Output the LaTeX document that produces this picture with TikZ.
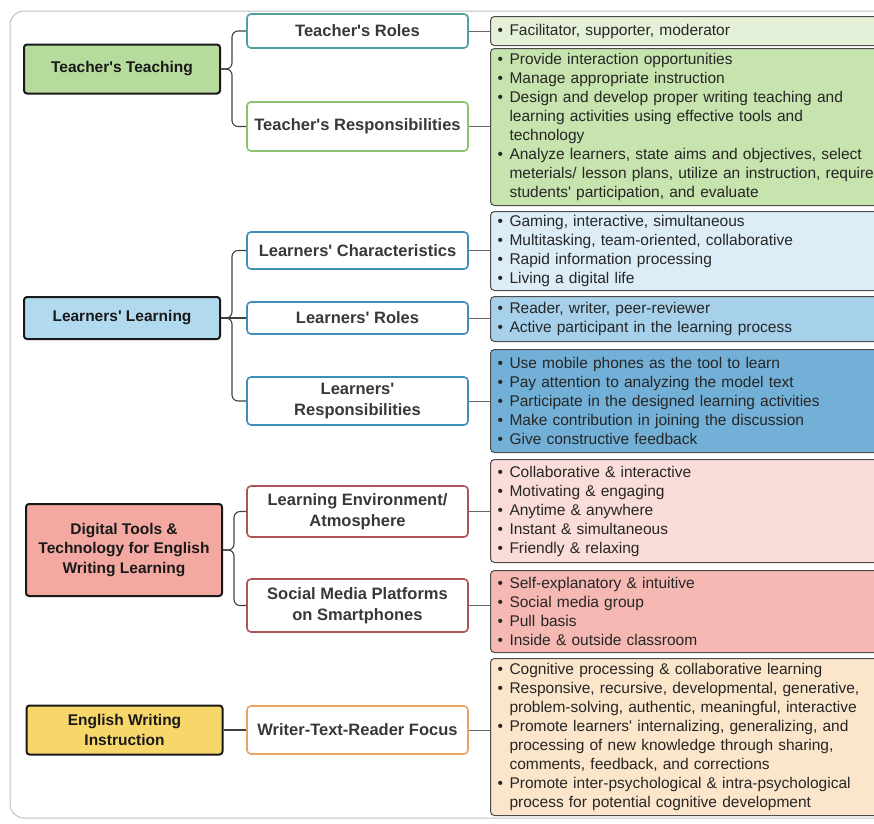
\documentclass[tikz,border=0pt]{standalone}
\usepackage{fontspec}
\setmainfont{Liberation Sans}[Ligatures=TeXOff]
\usepackage{xcolor}

\definecolor{ttfill}{HTML}{B5DC9D}
\definecolor{llfill}{HTML}{B2DAEE}
\definecolor{dtfill}{HTML}{F3A9A2}
\definecolor{ewfill}{HTML}{F8D76A}
\definecolor{tealline}{HTML}{4E9FA0}
\definecolor{greenline}{HTML}{8CC26E}
\definecolor{blueline}{HTML}{3D8FB8}
\definecolor{redline}{HTML}{B0525A}
\definecolor{orangeline}{HTML}{E6A45E}
\definecolor{facfill}{HTML}{E4F1D8}
\definecolor{trespfill}{HTML}{C7E3AE}
\definecolor{charfill}{HTML}{DCEDF8}
\definecolor{lrolefill}{HTML}{A7D1EA}
\definecolor{lrespfill}{HTML}{73B0D7}
\definecolor{envfill}{HTML}{FADCD8}
\definecolor{smpfill}{HTML}{F6B8B3}
\definecolor{wtrfill}{HTML}{FCE6CB}

\newcommand{\bul}{\makebox[12pt][l]{•}}
\newcommand{\cnt}{\hspace*{12pt}}

\begin{document}
\begin{tikzpicture}[x=1pt,y=-1pt,
  mainbox/.style={draw=black!90, line width=2pt, rounded corners=3pt, minimum width=196pt,
    align=center, inner ysep=0pt, font=\fontsize{15.5}{19.5}\selectfont\bfseries, text=black!90},
  subbox/.style={draw, fill=white, line width=1.6pt, rounded corners=4pt, minimum width=221pt,
    align=center, inner ysep=0pt, font=\fontsize{16.5}{20.5}\selectfont\bfseries, text=black!78},
  detbox/.style={draw=black!70, line width=1pt, rounded corners=4pt, anchor=north west,
    text width=392pt, inner xsep=7pt, inner ysep=0pt, align=left,
    font=\fontsize{15.5}{19}\selectfont, text=black!85},
  link/.style={draw=black!75, line width=1.1pt},
  thinlink/.style={draw=black!60, line width=0.7pt},
  brace/.style={link, rounded corners=6pt}]

\clip (0,0) rectangle (874,823);
\useasboundingbox (0,0) rectangle (874,823);
\draw[black!25, line width=1pt, rounded corners=14pt] (10,11) rectangle (910,818);

% left column
\node[mainbox, fill=ttfill, minimum height=49pt] (tt) at (122,69) {Teacher's Teaching};
\node[mainbox, fill=llfill, minimum height=42pt] (ll) at (122,318) {Learners' Learning};
\node[mainbox, fill=dtfill, minimum height=92pt] (dt) at (124,550) {Digital Tools \&\\Technology for English\\Writing Learning};
\node[mainbox, fill=ewfill, minimum height=49pt] (ew) at (124.5,730) {English Writing\\Instruction};

% middle column
\node[subbox, draw=tealline, minimum height=34pt] (troles) at (357.5,31) {Teacher's Roles};
\node[subbox, draw=greenline, minimum height=49pt] (tresp) at (357.5,126.5) {Teacher's Responsibilities};
\node[subbox, draw=blueline, minimum height=37pt] (lchar) at (357.5,250.5) {Learners' Characteristics};
\node[subbox, draw=blueline, minimum height=32pt] (lroles) at (357.5,318) {Learners' Roles};
\node[subbox, draw=blueline, minimum height=48pt] (lresp) at (357.5,401) {Learners'\\Responsibilities};
\node[subbox, draw=redline, minimum height=51pt] (lenv) at (357.5,511.5) {Learning Environment/\\Atmosphere};
\node[subbox, draw=redline, minimum height=53pt] (smp) at (357.5,605.5) {Social Media Platforms\\on Smartphones};
\node[subbox, draw=orangeline, minimum height=48pt] (wtr) at (357.5,730) {Writer-Text-Reader Focus};

% right column
\node[detbox, fill=facfill, minimum height=29pt] (dfac) at (490,16) {\bul Facilitator, supporter, moderator};
\node[detbox, fill=trespfill, minimum height=157pt] (dtresp) at (490,48) {%
\bul Provide interaction opportunities\\
\bul Manage appropriate instruction\\
\bul Design and develop proper writing teaching and\\
\cnt learning activities using effective tools and\\
\cnt technology\\
\bul Analyze learners, state aims and objectives, select\\
\cnt meterials/ lesson plans, utilize an instruction, require\\
\cnt students' participation, and evaluate};
\node[detbox, fill=charfill, minimum height=79pt] (dchar) at (490,211) {%
\bul Gaming, interactive, simultaneous\\
\bul Multitasking, team-oriented, collaborative\\
\bul Rapid information processing\\
\bul Living a digital life};
\node[detbox, fill=lrolefill, minimum height=45pt] (dlroles) at (490,296) {%
\bul Reader, writer, peer-reviewer\\
\bul Active participant in the learning process};
\node[detbox, fill=lrespfill, minimum height=103pt] (dlresp) at (490,349) {%
\bul Use mobile phones as the tool to learn\\
\bul Pay attention to analyzing the model text\\
\bul Participate in the designed learning activities\\
\bul Make contribution in joining the discussion\\
\bul Give constructive feedback};
\node[detbox, fill=envfill, minimum height=103pt] (denv) at (490,459) {%
\bul Collaborative \& interactive\\
\bul Motivating \& engaging\\
\bul Anytime \& anywhere\\
\bul Instant \& simultaneous\\
\bul Friendly \& relaxing};
\node[detbox, fill=smpfill, minimum height=82pt] (dsmp) at (490,570) {%
\bul Self-explanatory \& intuitive\\
\bul Social media group\\
\bul Pull basis\\
\bul Inside \& outside classroom};
\node[detbox, fill=wtrfill, minimum height=157pt] (dwtr) at (490,658) {%
\bul Cognitive processing \& collaborative learning\\
\bul Responsive, recursive, developmental, generative,\\
\cnt problem-solving, authentic, meaningful, interactive\\
\bul Promote learners' internalizing, generalizing, and\\
\cnt processing of new knowledge through sharing,\\
\cnt comments, feedback, and corrections\\
\bul Promote inter-psychological \& intra-psychological\\
\cnt process for potential cognitive development};

% braces from the left column
\foreach \a/\b in {tt/troles, tt/tresp, ll/lchar, ll/lresp, dt/lenv, dt/smp}{
  \draw[brace] (\a.east) -- ++(11,0) |- (\b.west);
}
\draw[link] (ll.east) -- (lroles.west);
\draw[link] (ew.east) -- (wtr.west);

% middle to right
\foreach \a/\b in {troles/dfac, tresp/dtresp, lchar/dchar, lroles/dlroles, lresp/dlresp, lenv/denv, smp/dsmp, wtr/dwtr}{
  \draw[thinlink] (\a.east) -- (\a.east -| \b.west);
}
\end{tikzpicture}
\end{document}
